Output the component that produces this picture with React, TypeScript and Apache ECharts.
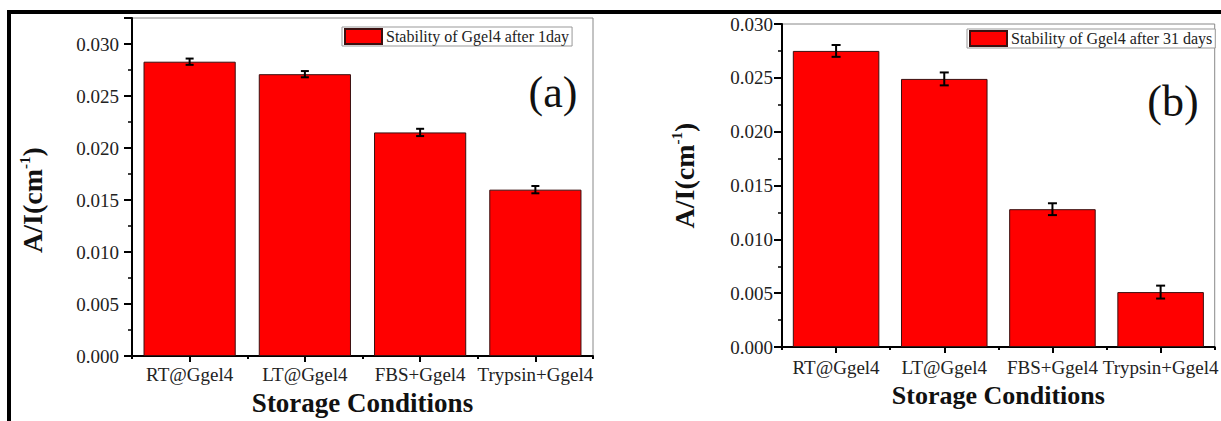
import React, { useEffect, useRef } from "react";
import * as echarts from "echarts";

const categories = ["RT@Ggel4", "LT@Ggel4", "FBS+Ggel4", "Trypsin+Ggel4"];
const day1Values = [0.0283, 0.0271, 0.0215, 0.016];
const day1Errors = [0.0003, 0.0003, 0.00035, 0.00035];
const day31Values = [0.0275, 0.0249, 0.0128, 0.0051];
const day31Errors = [0.00055, 0.0006, 0.00055, 0.0006];
const day1Name = "Stability of Ggel4 after 1day";
const day31Name = "Stability of Ggel4 after 31 days";
const yTickLabels = ["0.000", "0.005", "0.010", "0.015", "0.020", "0.025", "0.030"];

const SERIF = "Liberation Serif";
const TXT = "#222";

function yLabel(v: number) {
  const k = Math.round(v / 0.005);
  if (Math.abs(v / 0.005 - k) > 1e-6) return "";
  return yTickLabels[k] ?? "";
}

function makeErrRender(cap: number) {
  return (params: any, api: any) => {
    const x = api.value(0);
    const v = api.value(1);
    const e = api.value(2);
    const hi = api.coord([x, v + e]);
    const lo = api.coord([x, v - e]);
    const st = { stroke: "#000", lineWidth: 2 };
    return {
      type: "group",
      children: [
        { type: "line", shape: { x1: hi[0], y1: hi[1], x2: lo[0], y2: lo[1] }, style: st },
        { type: "line", shape: { x1: hi[0] - cap / 2, y1: hi[1], x2: hi[0] + cap / 2, y2: hi[1] }, style: st },
        { type: "line", shape: { x1: lo[0] - cap / 2, y1: lo[1], x2: lo[0] + cap / 2, y2: lo[1] }, style: st },
      ],
    };
  };
}

function yAxisCfg(grid: number, max: number, nameGap: number, labelMargin: number, namePad: number[]) {
  return {
    type: "value",
    gridIndex: grid,
    min: 0,
    max,
    interval: 0.005,
    name: "{m|A/I(cm}{s|-1}{m|)}",
    nameLocation: "middle",
    nameGap,
    nameTextStyle: {
      padding: namePad,
      rich: {
        m: { fontFamily: SERIF, fontWeight: "bold", fontSize: 28, color: "#111", lineHeight: 30 },
        s: { fontFamily: SERIF, fontWeight: "bold", fontSize: 15, color: "#111", verticalAlign: "top", lineHeight: 15 },
      },
    },
    axisLine: { show: true, lineStyle: { color: "#000", width: 2 } },
    axisTick: { show: true, length: 8, lineStyle: { color: "#000", width: 2 } },
    minorTick: { show: true, splitNumber: 2, length: 4, lineStyle: { color: "#000", width: 1.5 } },
    splitLine: { show: false },
    axisLabel: {
      margin: labelMargin,
      fontFamily: SERIF,
      fontSize: 19,
      color: TXT,
      formatter: yLabel,
      showMaxLabel: true,
    },
  };
}

function xAxisMain(grid: number, labelMargin: number, nameGap: number, nameSize: number) {
  return {
    type: "category",
    gridIndex: grid,
    data: categories,
    name: "Storage Conditions",
    nameLocation: "middle",
    nameGap,
    nameTextStyle: { fontFamily: SERIF, fontWeight: "bold", fontSize: nameSize, color: "#111" },
    axisLine: { show: true, lineStyle: { color: "#000", width: 2 } },
    axisTick: { show: true, alignWithLabel: true, length: 6, lineStyle: { color: "#000", width: 2 } },
    axisLabel: { margin: labelMargin, fontFamily: SERIF, fontSize: 19, color: TXT, interval: 0 },
    splitLine: { show: false },
  };
}

function xAxisMinor(grid: number) {
  return {
    type: "category",
    gridIndex: grid,
    data: categories,
    position: "bottom",
    axisLine: { show: false },
    axisTick: { show: true, alignWithLabel: false, length: 3, lineStyle: { color: "#000", width: 2 } },
    axisLabel: { show: false },
    splitLine: { show: false },
  };
}

function legendCfg(name: string, left: number, top: number) {
  return {
    data: [name],
    left,
    top,
    orient: "horizontal",
    icon: "rect",
    itemWidth: 37,
    itemHeight: 15,
    padding: [1, 3, 1, 2],
    borderColor: "#999",
    borderWidth: 1,
    backgroundColor: "#fff",
    selectedMode: false,
    textStyle: { fontFamily: SERIF, fontSize: 16, color: TXT, lineHeight: 17, padding: [0, 0, 0, -1] },
  };
}

export default function App() {
  const ref = useRef<HTMLDivElement>(null);
  useEffect(() => {
    document.body.style.margin = "0";
    if (!ref.current) return;
    const chart = echarts.init(ref.current, null, { renderer: "svg" });
    const barItem = { color: "#ff0000", borderColor: "#3a1010", borderWidth: 1 };
    const option: any = {
      animation: false,
      backgroundColor: "#fff",
      textStyle: { fontFamily: SERIF },
      grid: [
        { left: 132, top: 18, width: 461, height: 343, show: true, borderColor: "#888", borderWidth: 1, backgroundColor: "transparent" },
        { left: 782, top: 24, width: 436, height: 323, show: true, borderColor: "#888", borderWidth: 1, backgroundColor: "transparent" },
      ],
      legend: [legendCfg(day1Name, 342, 27), legendCfg(day31Name, 967, 29)],
      xAxis: [xAxisMain(0, 9, 29, 27), xAxisMinor(0), xAxisMain(1, 11, 35, 26), xAxisMinor(1)],
      yAxis: [yAxisCfg(0, 0.0325, 85, 13, [0, 26, 0, 0]), yAxisCfg(1, 0.03, 83, 9, [0, 0, 0, 20])],
      series: [
        {
          name: day1Name,
          type: "bar",
          xAxisIndex: 0,
          yAxisIndex: 0,
          data: day1Values,
          barCategoryGap: "20%",
          itemStyle: barItem,
        },
        {
          type: "custom",
          xAxisIndex: 0,
          yAxisIndex: 0,
          renderItem: makeErrRender(8),
          data: day1Values.map((v, i) => [i, v, day1Errors[i]]),
          encode: { x: 0, y: 1 },
          z: 5,
        },
        {
          name: day31Name,
          type: "bar",
          xAxisIndex: 2,
          yAxisIndex: 1,
          data: day31Values,
          barCategoryGap: "20%",
          itemStyle: barItem,
        },
        {
          type: "custom",
          xAxisIndex: 2,
          yAxisIndex: 1,
          renderItem: makeErrRender(9),
          data: day31Values.map((v, i) => [i, v, day31Errors[i]]),
          encode: { x: 0, y: 1 },
          z: 5,
        },
      ],
      graphic: [
        { type: "rect", shape: { x: 7, y: 10, width: 1214, height: 4 }, style: { fill: "#000" }, z: 100 },
        { type: "rect", shape: { x: 7, y: 10, width: 4, height: 411 }, style: { fill: "#000" }, z: 100 },
        {
          type: "text",
          x: 553,
          y: 92,
          style: { text: "(a)", fontFamily: SERIF, fontSize: 44, fill: "#111", textAlign: "center", textVerticalAlign: "middle" },
          z: 100,
        },
        {
          type: "text",
          x: 1173,
          y: 101,
          style: { text: "(b)", fontFamily: SERIF, fontSize: 44, fill: "#111", textAlign: "center", textVerticalAlign: "middle" },
          z: 100,
        },
      ],
    };
    chart.setOption(option);
    return () => chart.dispose();
  }, []);
  return <div ref={ref} style={{ width: 1221, height: 421 }} />;
}
